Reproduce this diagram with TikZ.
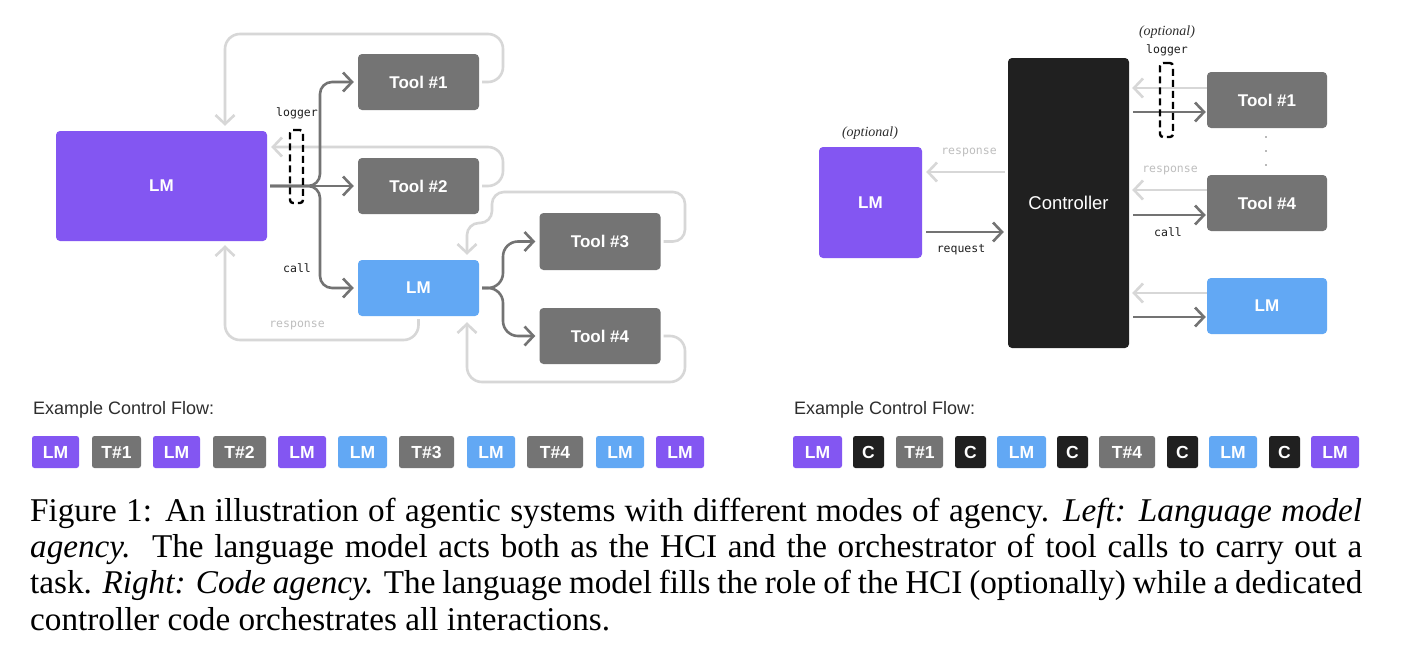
\documentclass[tikz,border=0pt]{standalone}
\usepackage{fontspec}
\setmainfont{Liberation Serif}
\newfontfamily\sansf{Liberation Sans}
\newfontfamily\monof{DejaVu Sans Mono}
\usetikzlibrary{arrows.meta}
\definecolor{purp}{RGB}{131,86,242}
\definecolor{lblue}{RGB}{98,168,244}
\definecolor{tgray}{RGB}{116,116,116}
\definecolor{ctrlblk}{RGB}{32,32,32}
\definecolor{dkline}{RGB}{115,115,115}
\definecolor{ltline}{RGB}{215,215,215}
\definecolor{ltext}{RGB}{190,190,190}
\definecolor{extext}{RGB}{45,45,45}
\definecolor{lbltext}{RGB}{30,30,30}
\tikzset{
  box/.style={rectangle, rounded corners=4pt, inner sep=0pt, text=white,
    font=\sansf\bfseries\fontsize{17}{20}\selectfont},
  tok/.style={rectangle, rounded corners=2.5pt, inner sep=0pt, minimum height=32pt,
    text=white, font=\sansf\bfseries\fontsize{17.5}{20}\selectfont},
  dk/.style={draw=dkline, line width=2.6pt, -{Straight Barb[length=9pt,width=19pt]}},
  lt/.style={draw=ltline, line width=2.6pt, -{Straight Barb[length=9pt,width=19pt]}},
  mono/.style={inner sep=0pt, text=lbltext, font=\monof\fontsize{11.5}{13}\selectfont},
  optl/.style={inner sep=0pt, text=extext, font=\itshape\fontsize{14}{16}\selectfont},
  logbox/.style={draw=black, line width=2.4pt, dash pattern=on 7pt off 4pt,
    rounded corners=3pt, inner sep=0pt, minimum width=13pt, minimum height=73pt},
  exlab/.style={anchor=west, inner sep=0pt, text=extext, font=\sansf\fontsize{18}{21}\selectfont},
  capline/.style={anchor=base west, inner sep=0pt, font=\fontsize{33.2}{36.5}\selectfont}
}
\begin{document}
\begin{tikzpicture}[x=1pt,y=-1pt]
\useasboundingbox[fill=white] (0,0) rectangle (1408,648);

% ---------- left diagram: nodes ----------
\node[box, fill=purp, minimum width=211pt, minimum height=110pt] (bigLM) at (161.5,186) {LM};
\node[box, fill=tgray, minimum width=121pt, minimum height=56pt] (t1) at (418.5,82) {Tool \#1};
\node[box, fill=tgray, minimum width=121pt, minimum height=56pt] (t2) at (418.5,186) {Tool \#2};
\node[box, fill=lblue, minimum width=121pt, minimum height=56pt] (blueLM) at (418.5,288) {LM};
\node[box, fill=tgray, minimum width=121pt, minimum height=57pt] (t3) at (600,241.5) {Tool \#3};
\node[box, fill=tgray, minimum width=121pt, minimum height=56pt] (t4) at (600,336) {Tool \#4};

% helper coordinates
\coordinate (xL) at (225,0);
\coordinate (br) at (320,186);
\coordinate (rA) at (503,34);
\coordinate (rB) at (503,147);
\coordinate (bb) at (503,288);
\coordinate (rC) at (685,192);
\coordinate (jog) at (492,223);
\coordinate (xM) at (467,0);
\coordinate (rD) at (685,382);
\coordinate (resp) at (225,340);

% light return connectors
\draw[lt, rounded corners=15pt, shorten <=3pt, shorten >=5pt] (t1.east) -| (rA) -| (bigLM.north -| xL);
\draw[lt, rounded corners=15pt, shorten <=3pt, shorten >=4pt] (t2.east) -| (rB) -- (bigLM.east |- rB);
\draw[lt, rounded corners=12pt, shorten <=3pt, shorten >=5pt] (t3.east) -| (rC) -| (jog) -| (blueLM.north -| xM);
\draw[lt, rounded corners=15pt, shorten <=3pt, shorten >=6pt] (t4.east) -| (rD) -| (blueLM.south -| xM);
\draw[lt, rounded corners=15pt, shorten <=3pt, shorten >=4pt] (blueLM.south) |- (resp) -- (bigLM.south -| xL);

% dark call connectors
\draw[dk, shorten <=3pt, shorten >=4pt] (bigLM.east) -- (t2.west);
\draw[dk, rounded corners=12pt, shorten <=3pt, shorten >=4pt] (bigLM.east) -- (br) |- (t1.west);
\draw[dk, rounded corners=12pt, shorten <=3pt, shorten >=4pt] (bigLM.east) -- (br) |- (blueLM.west);
\draw[dk, rounded corners=15pt, shorten <=3pt, shorten >=4pt] (blueLM.east) -- (bb) |- (t3.west);
\draw[dk, rounded corners=15pt, shorten <=3pt, shorten >=4pt] (blueLM.east) -- (bb) |- (t4.west);

% logger and labels
\node[logbox] (lg) at (296.5,166.5) {};
\node[mono] (lglab) at (297,113) {logger};
\node[mono] (calllab) at (297,268) {call};
\node[mono, text=ltext] (resplab) at (297,325) {response};

% ---------- right diagram ----------
\node[box, fill=ctrlblk, minimum width=121pt, minimum height=290pt,
  font=\sansf\fontsize{18.5}{22}\selectfont] (ctrl) at (1068.5,203) {Controller};
\node[box, fill=purp, minimum width=103pt, minimum height=111pt] (rLM) at (870.5,202.5) {LM};
\node[box, fill=tgray, minimum width=120pt, minimum height=56pt] (rt1) at (1267,100) {Tool \#1};
\node[box, fill=tgray, minimum width=120pt, minimum height=56pt] (rt4) at (1267,203) {Tool \#4};
\node[box, fill=lblue, minimum width=120pt, minimum height=56pt] (rblue) at (1267,306) {LM};

\coordinate (y172) at (0,172);
\coordinate (y232) at (0,232);
\coordinate (y88) at (0,88);
\coordinate (y112) at (0,112);
\coordinate (y190) at (0,190);
\coordinate (y215) at (0,215);
\coordinate (y293) at (0,293);
\coordinate (y317) at (0,317);

\draw[lt, shorten <=3pt, shorten >=4pt] (ctrl.west |- y172) -- (rLM.east |- y172);
\draw[dk, shorten <=4pt, shorten >=4pt] (rLM.east |- y232) -- (ctrl.west |- y232);

\draw[lt, shorten >=3pt] (rt1.west |- y88) -- (ctrl.east |- y88);
\draw[dk, shorten <=4pt, shorten >=1pt] (ctrl.east |- y112) -- (rt1.west |- y112);
\draw[lt, shorten >=3pt] (rt4.west |- y190) -- (ctrl.east |- y190);
\draw[dk, shorten <=4pt, shorten >=1pt] (ctrl.east |- y215) -- (rt4.west |- y215);
\draw[lt, shorten >=3pt] (rblue.west |- y293) -- (ctrl.east |- y293);
\draw[dk, shorten <=4pt, shorten >=1pt] (ctrl.east |- y317) -- (rblue.west |- y317);

\node[logbox, minimum height=74pt] (rlg) at (1166.5,100) {};
\node[optl] (ropt) at (1167,32) {(optional)};
\node[mono] (rlglab) at (1167,50) {logger};
\node[mono, text=ltext] (rresp2) at (1170,170) {response};
\node[mono] (rcall) at (1168,232) {call};
\node[mono, text=ltext] (rresp1) at (969,152) {response};
\node[mono] (rreq) at (961,250) {request};
\node[optl] (lopt) at (870,133) {(optional)};
\fill[dkline] (1266,137) circle (0.9pt) (1266,151) circle (0.9pt) (1266,165) circle (0.9pt);

% ---------- example control flows ----------
\node[exlab] (ex1) at (33,410) {Example Control Flow:};
\node[exlab] (ex2) at (794,410) {Example Control Flow:};

\node[tok, fill=purp,  minimum width=47pt] (tl1) at (55.5,452) {LM};
\node[tok, fill=tgray, minimum width=49pt] (tl2) at (116.5,452) {T\#1};
\node[tok, fill=purp,  minimum width=47pt] (tl3) at (176.5,452) {LM};
\node[tok, fill=tgray, minimum width=53pt] (tl4) at (239.5,452) {T\#2};
\node[tok, fill=purp,  minimum width=48pt] (tl5) at (302,452) {LM};
\node[tok, fill=lblue, minimum width=49pt] (tl6) at (362.5,452) {LM};
\node[tok, fill=tgray, minimum width=55pt] (tl7) at (426.5,452) {T\#3};
\node[tok, fill=lblue, minimum width=48pt] (tl8) at (491,452) {LM};
\node[tok, fill=tgray, minimum width=56pt] (tl9) at (555,452) {T\#4};
\node[tok, fill=lblue, minimum width=48pt] (tl10) at (620,452) {LM};
\node[tok, fill=purp,  minimum width=48pt] (tl11) at (680,452) {LM};

\node[tok, fill=purp,    minimum width=49pt] (tr1) at (817.5,452) {LM};
\node[tok, fill=ctrlblk, minimum width=31pt] (tr2) at (868.5,452) {C};
\node[tok, fill=tgray,   minimum width=47pt] (tr3) at (919.5,452) {T\#1};
\node[tok, fill=ctrlblk, minimum width=31pt] (tr4) at (970.5,452) {C};
\node[tok, fill=lblue,   minimum width=49pt] (tr5) at (1021.5,452) {LM};
\node[tok, fill=ctrlblk, minimum width=31pt] (tr6) at (1072.5,452) {C};
\node[tok, fill=tgray,   minimum width=56pt] (tr7) at (1127,452) {T\#4};
\node[tok, fill=ctrlblk, minimum width=31pt] (tr8) at (1182.5,452) {C};
\node[tok, fill=lblue,   minimum width=48pt] (tr9) at (1233,452) {LM};
\node[tok, fill=ctrlblk, minimum width=31pt] (tr10) at (1284.5,452) {C};
\node[tok, fill=purp,    minimum width=48pt] (tr11) at (1335,452) {LM};

% ---------- caption ----------
\node[capline] (cap1) at (30,521) {\makebox[1332pt][s]{Figure 1: An illustration of agentic systems with different modes of agency. \textit{Left: Language model}}};
\node[capline] (cap2) at (30,557) {\makebox[1332pt][s]{\textit{agency.}\ \ The language model acts both as the HCI and the orchestrator of tool calls to carry out a}};
\node[capline] (cap3) at (30,593.5) {\makebox[1332pt][s]{task. \textit{Right: Code agency.} The language model fills the role of the HCI (optionally) while a dedicated}};
\node[capline] (cap4) at (30,630) {controller code orchestrates all interactions.};
\end{tikzpicture}
\end{document}
